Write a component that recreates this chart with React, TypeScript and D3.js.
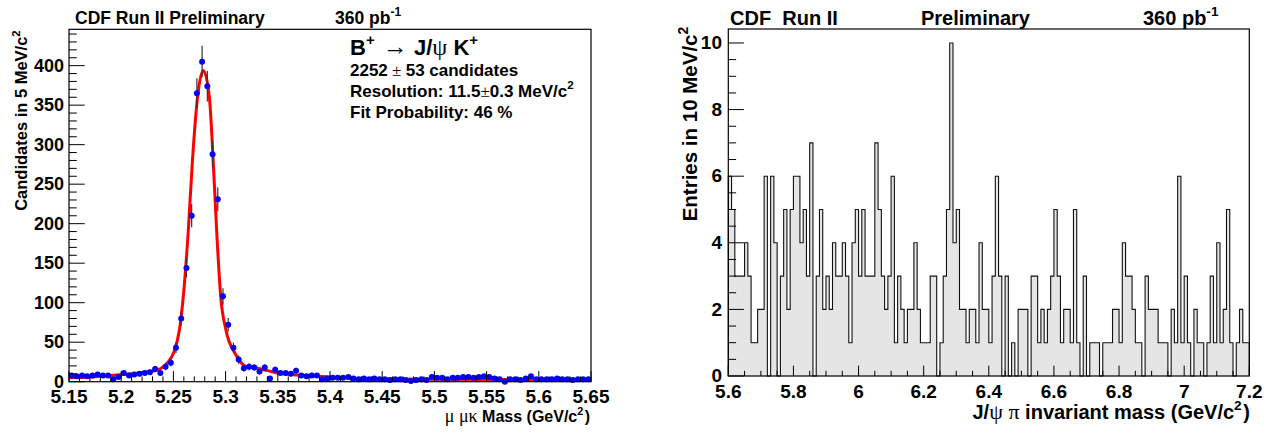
import React from "react";
import * as d3 from "d3";

const FONT = "'Liberation Sans', Arial, Helvetica, sans-serif";
const SYM = "'Liberation Serif', 'DejaVu Serif', serif";

// left pad: B+ -> J/psi K+ candidates, 5 MeV bins
const massLo = 5.15;
const massHi = 5.65;
const massBin = 0.005;
const candCounts = [
  8, 7, 8, 7, 8, 9, 8, 8, 3, 6,
  11, 8, 9, 10, 11, 12, 16, 11, 19, 24,
  43, 80, 144, 210, 365, 405, 374, 288, 231, 108,
  72, 43, 28, 17, 19, 18, 13, 18, 4, 15,
  11, 11, 10, 14, 8, 7, 8, 8, 3, 4,
  5, 5, 5, 6, 4, 3, 4, 3, 4, 3,
  3, 2, 3, 3, 2, 1, 2, 3, 2, 6,
  5, 5, 3, 5, 5, 6, 6, 5, 6, 7,
  6, 4, 3, 0, 3, 3, 2, 4, 7, 3,
  3, 3, 3, 4, 3, 3, 2, 3, 3, 3,
];

// fit curve
const fitMass = [5.15, 5.17, 5.19, 5.21, 5.225, 5.235, 5.2404, 5.245, 5.25, 5.2557, 5.2595, 5.2643, 5.2681, 5.2732, 5.2786,
  5.2844, 5.2882, 5.2914, 5.2953, 5.3004, 5.309, 5.32, 5.33, 5.34, 5.35, 5.36, 5.38, 5.4, 5.42, 5.45, 5.5, 5.65];
const fitCands = [5, 6, 8, 10, 12.5, 15, 19, 25, 36, 65, 108, 192, 277, 361, 394,
  361, 277, 192, 108, 65, 36, 19, 17, 14, 11, 9.5, 7.5, 6, 4.5, 3.5, 3, 2.5];

const massTicks = [5.15, 5.2, 5.25, 5.3, 5.35, 5.4, 5.45, 5.5, 5.55, 5.6, 5.65];
const candTicks = [0, 50, 100, 150, 200, 250, 300, 350, 400];

// right pad: J/psi pi invariant mass, 10 MeV bins
const piLo = 5.6;
const piHi = 7.2;
const piBin = 0.01;
const piCounts = [
  6, 5, 3, 3, 3, 4, 3, 1, 1, 2, 2, 6, 0, 6, 4, 0, 3, 5, 2, 5,
  6, 6, 4, 5, 3, 7, 0, 3, 5, 2, 3, 2, 4, 3, 3, 4, 3, 1, 4, 5,
  3, 5, 3, 3, 3, 7, 5, 3, 2, 3, 6, 1, 3, 2, 1, 2, 2, 4, 2, 1,
  1, 1, 3, 3, 0, 1, 3, 5, 10, 4, 5, 2, 2, 1, 2, 2, 1, 4, 2, 2,
  1, 3, 6, 3, 0, 3, 0, 1, 0, 2, 2, 2, 0, 3, 3, 1, 2, 1, 2, 3,
  5, 3, 1, 2, 2, 1, 5, 1, 0, 3, 0, 1, 1, 1, 0, 1, 1, 1, 2, 2,
  1, 4, 3, 3, 2, 1, 1, 0, 3, 2, 2, 2, 1, 1, 1, 0, 2, 1, 6, 1,
  3, 1, 0, 2, 1, 1, 0, 1, 3, 1, 4, 1, 2, 5, 1, 0, 1, 2, 1, 1,
];
const piTicks = [5.6, 5.8, 6, 6.2, 6.4, 6.6, 6.8, 7, 7.2];
const entryTicks = [0, 2, 4, 6, 8, 10];

const Sup = ({ children, size }: { children: React.ReactNode; size: number }) => (
  <>
    <tspan dy={-size * 0.45} fontSize={size * 0.68}>{children}</tspan>
    <tspan dy={size * 0.45} fontSize={size}>{"\u200a"}</tspan>
  </>
);

export default function App() {
  const width = 1284;
  const height = 434;

  // ---------- left pad ----------
  const xL = d3.scaleLinear().domain([massLo, massHi]).range([69, 591]);
  const yL = d3.scaleLinear().domain([0, 446]).range([381.7, 29.3]);
  const nMassMinor = Math.round((massHi - massLo) / 0.01);
  const massMinor = d3.range(0, nMassMinor + 1).map((i) => ({ v: massLo + i * 0.01, major: i % 5 === 0 }));
  const candMinor = d3.range(0, 45).map((i) => ({ v: i * 10, major: i % 5 === 0 }));
  const fitLine = d3
    .line<number>()
    .x((_, i) => xL(fitMass[i]))
    .y((d) => yL(d))
    .curve(d3.curveMonotoneX);

  // ---------- right pad ----------
  const xR = d3.scaleLinear().domain([piLo, piHi]).range([728.3, 1249.3]);
  const yR = d3.scaleLinear().domain([0, 10.42]).range([376, 29]);
  const nPiMinor = Math.round((piHi - piLo) / 0.05);
  const piMinor = d3.range(0, nPiMinor + 1).map((i) => ({ v: piLo + i * 0.05, major: i % 4 === 0 }));
  const entryMinor = d3.range(0, 21).map((i) => ({ v: i * 0.5, major: i % 4 === 0 }));
  const histPts: [number, number][] = [[piLo, 0]];
  piCounts.forEach((c, i) => {
    histPts.push([piLo + i * piBin, c]);
    histPts.push([piLo + (i + 1) * piBin, c]);
  });
  histPts.push([piHi, 0]);
  const histLine = d3
    .line<[number, number]>()
    .x((d) => xR(d[0]))
    .y((d) => yR(d[1]));

  return (
    <svg
      width={width}
      height={height}
      style={{ position: "absolute", left: 0, top: 0, background: "#fff" }}
      fontFamily={FONT}
      fontWeight="bold"
    >
      {/* ===== left pad ===== */}
      <text x={75} y={24} fontSize={17.5}>CDF Run II Preliminary</text>
      <text x={335} y={24} fontSize={17.5}>
        360 pb<Sup size={17.5}>-1</Sup>
      </text>

      {/* fit curve */}
      <path d={fitLine(fitCands) || ""} fill="none" stroke="#ff0000" strokeWidth={3} />

      {/* data points with errors */}
      {candCounts.map((c, i) => {
        const cx = xL(massLo + (i + 0.5) * massBin);
        const e = Math.sqrt(c);
        return (
          <g key={"p" + i}>
            {e > 0 && <line x1={cx} x2={cx} y1={yL(c - e)} y2={yL(c + e)} stroke="#333" strokeWidth={1.2} />}
            <circle cx={cx} cy={yL(c)} r={3} fill="#0000ff" />
          </g>
        );
      })}

      <rect x={69} y={29.3} width={591 - 69} height={381.7 - 29.3} fill="none" stroke="#000" strokeWidth={1.2} />
      {massMinor.map((t, i) => (
        <line key={"mx" + i} x1={xL(t.v)} x2={xL(t.v)} y1={381.7} y2={381.7 - (t.major ? 10.6 : 5.3)} stroke="#000" />
      ))}
      {candMinor.map((t, i) => (
        <line key={"my" + i} x1={69} x2={69 + (t.major ? 15.7 : 7.8)} y1={yL(t.v)} y2={yL(t.v)} stroke="#000" />
      ))}
      {massTicks.map((t) => (
        <text key={"ml" + t} x={xL(t)} y={402.5} fontSize={19} textAnchor="middle">{String(t)}</text>
      ))}
      {candTicks.map((t) => (
        <text key={"cl" + t} x={64} y={yL(t)} dy="0.33em" fontSize={18} textAnchor="end">{String(t)}</text>
      ))}
      <text transform="translate(27,29) rotate(-90)" fontSize={16.5} textAnchor="end">
        Candidates in 5 MeV/c<Sup size={16.5}>2</Sup>
      </text>
      <text x={590} y={422} fontSize={16} textAnchor="end">
        <tspan fontFamily={SYM} fontWeight="normal" fontSize={18}>{"\u03bc  \u03bc\u03ba"}</tspan>
        {"  Mass (GeV/c"}
        <Sup size={16}>2</Sup>
        {")"}
      </text>

      {/* legend */}
      <text x={350} y={55} fontSize={22}>
        B<Sup size={22}>+</Sup>
        <tspan fontFamily={SYM} fontWeight="normal" fontSize={25}>{" \u2192 "}</tspan>
        J/<tspan fontFamily={SYM} fontWeight="normal" fontSize={24}>{"\u03c8"}</tspan>
        {"  K"}
        <Sup size={22}>+</Sup>
      </text>
      <text x={350} y={76} fontSize={17}>
        2252<tspan fontFamily={SYM} fontWeight="normal">{" \u00b1 "}</tspan>53 candidates
      </text>
      <text x={350} y={97} fontSize={17}>
        Resolution: 11.5<tspan fontFamily={SYM} fontWeight="normal">{"\u00b1"}</tspan>0.3 MeV/c<Sup size={17}>2</Sup>
      </text>
      <text x={350} y={118} fontSize={17}>Fit Probability: 46 %</text>

      {/* ===== right pad ===== */}
      <text x={730} y={25} fontSize={20}>CDF{"\u00a0\u00a0"}Run II</text>
      <text x={921} y={25} fontSize={20}>Preliminary</text>
      <text x={1143} y={25} fontSize={20}>
        360 pb<Sup size={20}>-1</Sup>
      </text>

      <path d={histLine(histPts) || ""} fill="#e5e5e5" stroke="#111" strokeWidth={1.1} />
      <rect x={728.3} y={29} width={1249.3 - 728.3} height={376 - 29} fill="none" stroke="#000" strokeWidth={1.2} />
      {piMinor.map((t, i) => (
        <line key={"px" + i} x1={xR(t.v)} x2={xR(t.v)} y1={376} y2={376 - (t.major ? 10.4 : 5.2)} stroke="#000" />
      ))}
      {entryMinor.map((t, i) => (
        <line key={"py" + i} x1={728.3} x2={728.3 + (t.major ? 15.6 : 7.8)} y1={yR(t.v)} y2={yR(t.v)} stroke="#000" />
      ))}
      {piTicks.map((t) => (
        <text key={"pl" + t} x={xR(t)} y={398} fontSize={19} textAnchor="middle">{String(t)}</text>
      ))}
      {entryTicks.map((t) => (
        <text key={"el" + t} x={722} y={yR(t)} dy="0.33em" fontSize={19} textAnchor="end">{String(t)}</text>
      ))}
      <text transform="translate(697,25) rotate(-90)" fontSize={20.5} textAnchor="end">
        Entries in 10 MeV/c<Sup size={20.5}>2</Sup>
      </text>
      <text x={1250} y={419} fontSize={20} textAnchor="end">
        J/<tspan fontFamily={SYM} fontWeight="normal" fontSize={22}>{"\u03c8 \u03c0"}</tspan>
        {" invariant mass (GeV/c"}
        <Sup size={20}>2</Sup>
        {")"}
      </text>
    </svg>
  );
}
